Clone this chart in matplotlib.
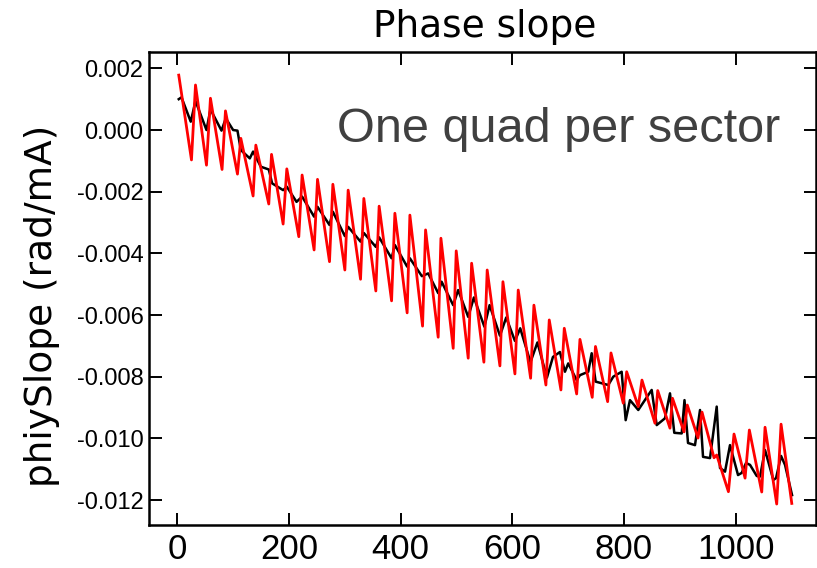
"""Phase slope vs position: black and red traces, IDL-style boxed axes."""

import matplotlib

matplotlib.use("Agg")
import matplotlib.pyplot as plt

# black trace
black_x = [
    2.3, 7.2, 23.8, 32.3, 52.0, 59.1, 78.9, 86.6, 99.7, 107.5,
    113.5, 129.6, 135.5, 149.3, 163.6, 169.6, 189.3, 195.9, 213.3, 223.3,
    244.8, 250.9, 272.4, 278.4, 299.9, 305.8, 328.0, 333.9, 355.4, 361.3,
    383.6, 389.5, 411.5, 416.4, 437.9, 449.2, 467.1, 473.2, 494.0, 502.9,
    520.9, 531.1, 549.9, 559.2, 577.7, 589.0, 604.6, 614.1, 632.4, 644.9,
    661.9, 672.7, 685.2, 694.2, 700.1, 715.2, 721.1, 736.0, 742.1, 749.2,
    771.8, 780.8, 795.8, 803.0, 810.7, 825.6, 849.6, 858.6, 873.4, 882.4,
    890.1, 903.4, 908.4, 914.7, 927.2, 936.2, 941.6, 954.1, 966.1, 972.0,
    981.0, 989.9, 1004.3, 1010.9, 1018.6, 1025.8, 1037.8, 1043.7, 1052.7, 1067.6,
    1072.4, 1081.4, 1088.5, 1101.1,
]
black_y = [
    0.00100, 0.00106, 0.00027, 0.00094, 0.00000, 0.00067, -0.00002, 0.00038, 0.00000, -0.00002,
    -0.00065, -0.00092, -0.00070, -0.00119, -0.00128, -0.00173, -0.00195, -0.00184, -0.00233, -0.00216,
    -0.00281, -0.00249, -0.00308, -0.00265, -0.00344, -0.00314, -0.00362, -0.00334, -0.00379, -0.00348,
    -0.00416, -0.00373, -0.00443, -0.00416, -0.00474, -0.00465, -0.00529, -0.00492, -0.00568, -0.00519,
    -0.00606, -0.00543, -0.00638, -0.00568, -0.00667, -0.00608, -0.00684, -0.00643, -0.00753, -0.00689,
    -0.00803, -0.00736, -0.00720, -0.00784, -0.00757, -0.00811, -0.00795, -0.00784, -0.00724, -0.00816,
    -0.00827, -0.00800, -0.00784, -0.00941, -0.00876, -0.00908, -0.00843, -0.00957, -0.00935, -0.00854,
    -0.00982, -0.00984, -0.00876, -0.01015, -0.01022, -0.00908, -0.01060, -0.01064, -0.00897, -0.01096,
    -0.01108, -0.01022, -0.01119, -0.01112, -0.01080, -0.01086, -0.01122, -0.01124, -0.01038, -0.01135,
    -0.01129, -0.01057, -0.01086, -0.01184,
]

# red trace (valley / peak pairs, one per sector)
red_x = [
    2.3, 25.1, 32.3, 52.0, 59.1, 79.9, 86.0, 107.5, 113.5, 135.5,
    140.4, 163.6, 168.5, 189.3, 195.9, 217.4, 223.3, 244.8, 250.9, 272.4,
    278.4, 299.9, 305.8, 328.0, 333.9, 355.4, 361.3, 383.6, 389.5, 411.5,
    416.4, 439.1, 444.5, 467.1, 472.0, 494.0, 499.4, 520.9, 527.0, 549.0,
    554.9, 577.7, 583.1, 604.6, 610.5, 632.7, 638.6, 660.1, 666.1, 687.0,
    693.0, 715.2, 721.1, 743.1, 748.9, 770.7, 776.7, 798.7, 804.8, 825.6,
    832.2, 855.5, 860.4, 882.4, 886.9, 907.5, 913.4, 932.6, 939.8, 961.3,
    966.1, 987.1, 997.1, 1016.9, 1024.6, 1046.8, 1052.7, 1073.6, 1081.4, 1100.6,
]
red_y = [
    0.00178, -0.00097, 0.00146, -0.00114, 0.00103, -0.00128, 0.00062, -0.00143, -0.00027, -0.00214,
    -0.00049, -0.00240, -0.00079, -0.00305, -0.00126, -0.00346, -0.00146, -0.00389, -0.00160, -0.00427,
    -0.00176, -0.00454, -0.00195, -0.00484, -0.00222, -0.00522, -0.00247, -0.00554, -0.00270, -0.00593,
    -0.00276, -0.00636, -0.00324, -0.00672, -0.00351, -0.00708, -0.00392, -0.00740, -0.00432, -0.00753,
    -0.00454, -0.00765, -0.00492, -0.00791, -0.00519, -0.00805, -0.00568, -0.00827, -0.00616, -0.00843,
    -0.00643, -0.00856, -0.00679, -0.00867, -0.00702, -0.00881, -0.00723, -0.00886, -0.00784, -0.00897,
    -0.00811, -0.00951, -0.00845, -0.00967, -0.00870, -0.00979, -0.00892, -0.00999, -0.00915, -0.01063,
    -0.01054, -0.01173, -0.00986, -0.01129, -0.00973, -0.01174, -0.00964, -0.01213, -0.00954, -0.01211,
]

x_ticks = [0, 200, 400, 600, 800, 1000]
y_ticks = [0.002, 0.000, -0.002, -0.004, -0.006, -0.008, -0.010, -0.012]

W, H = 817, 568
fig = plt.figure(figsize=(W / 100, H / 100), dpi=100)
ax = fig.add_axes([149 / W, 43 / H, 667 / W, 473 / H])

ax.plot(black_x, black_y, color="black", linewidth=1.8)
ax.plot(red_x, red_y, color="#ff0000", linewidth=2.0)

ax.set_xlim(-51, 1144)
ax.set_ylim(-0.01281, 0.00253)
ax.set_xticks(x_ticks)
ax.set_xticklabels([str(t) for t in x_ticks], fontfamily="Liberation Sans", fontsize=25)
ax.set_yticks(y_ticks)
ax.set_yticklabels([f"{t:.3f}" for t in y_ticks], fontfamily="Liberation Sans", fontsize=17)
ax.tick_params(direction="in", top=True, right=True, length=9, width=1.4)
ax.tick_params(axis="x", pad=6)
ax.tick_params(axis="y", pad=4)
for spine in ax.spines.values():
    spine.set_linewidth(1.8)

fig.text(485 / W, 1 - 37 / H, "Phase slope", ha="center", va="baseline",
         fontfamily="DejaVu Sans", fontsize=27)
fig.text(42 / W, 1 - 306 / H, "phiySlope (rad/mA)", rotation=90, ha="center", va="center",
         fontfamily="DejaVu Sans", fontsize=27)
fig.text(337 / W, 1 - 141.7 / H, "One quad per sector", ha="left", va="baseline",
         fontfamily="Liberation Sans", fontsize=35, color="#404040")

fig.savefig("out.png", dpi=100)
